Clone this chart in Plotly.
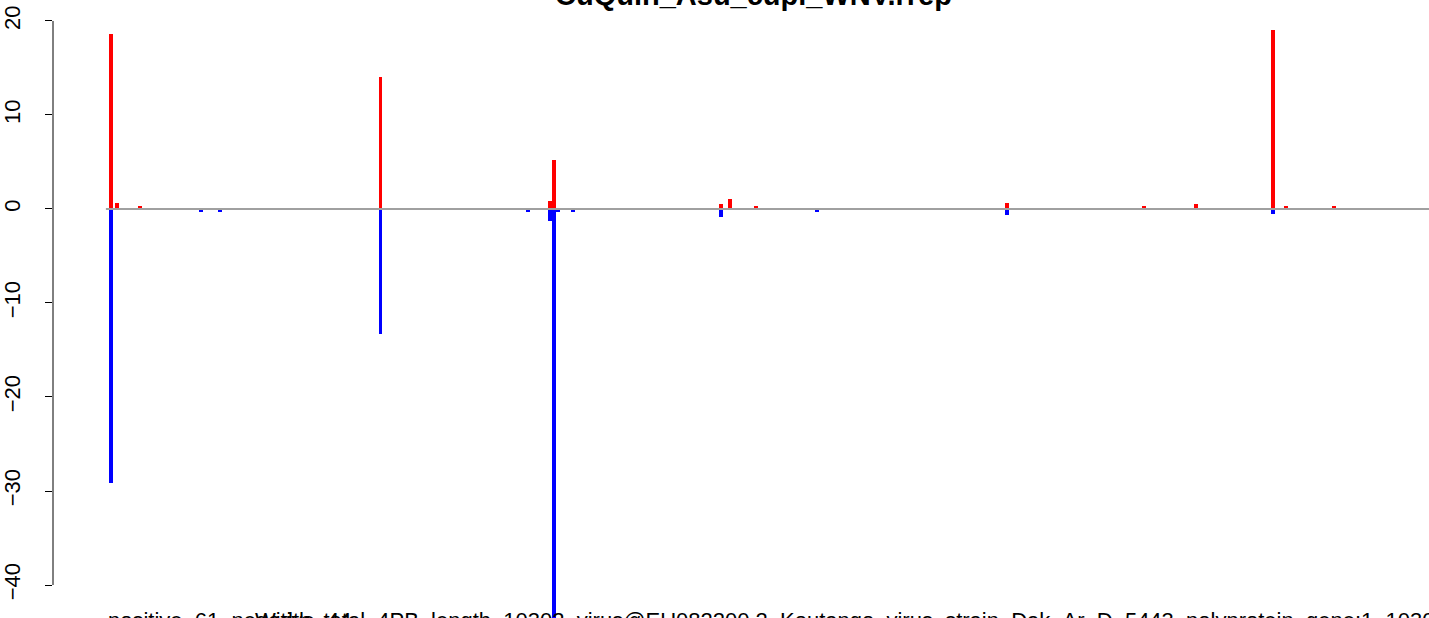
import plotly.graph_objects as go

# ---- data ----
genome_length = 10302
title_text = "CuQuin_Asu_cupi_WNV.rrep"
label_left = "positive_61_negative_44"
label_right = "Width_total_4PB_length_10302_virus@EU082200.2_Koutango_virus_strain_Dak_Ar_D_5443_polyprotein_gene:1_10302"

pos_x = [39, 86, 264, 2138, 3460, 3491, 4790, 4860, 5062, 7013, 8086, 8490, 9089, 9190, 9563]
pos_y = [18.6, 0.6, 0.32, 14.0, 0.88, 5.2, 0.5, 1.05, 0.3, 0.6, 0.3, 0.5, 19.0, 0.3, 0.3]

neg_x = [39, 739, 886, 2138, 3289, 3460, 3491, 3522, 3639, 4790, 5536, 7013, 9089]
neg_y = [-29.2, -0.35, -0.35, -13.3, -0.35, -1.3, -45.0, -0.35, -0.35, -0.85, -0.35, -0.6, -0.55]

y_ticks = [-40, -30, -20, -10, 0, 10, 20]

# ---- figure ----
W, H = 1429, 618
bar_w = 31  # genome units (~4 px)

fig = go.Figure()
fig.add_trace(go.Bar(x=pos_x, y=pos_y, width=bar_w, marker=dict(color="#FF0000", line=dict(width=0)),
                     showlegend=False, hoverinfo="x+y"))
fig.add_trace(go.Bar(x=neg_x, y=neg_y, width=bar_w, marker=dict(color="#0000FF", line=dict(width=0)),
                     showlegend=False, hoverinfo="x+y"))
fig.add_trace(go.Scatter(x=[0, genome_length], y=[0, 0], mode="lines",
                         line=dict(color="#A0A0A0", width=2), showlegend=False, hoverinfo="skip"))

font_family = "Liberation Sans, Arial, Helvetica, sans-serif"

fig.update_layout(
    width=W, height=H,
    margin=dict(l=51, r=0, t=0, b=0),
    paper_bgcolor="white", plot_bgcolor="white",
    barmode="overlay", bargap=0,
    font=dict(family=font_family, size=22, color="black"),
    xaxis=dict(visible=False, range=[-412, genome_length], fixedrange=True),
    yaxis=dict(range=[-43.51, 22.23], tickvals=y_ticks,
               showgrid=False, zeroline=False, showline=False,
               ticks="outside", ticklen=7, tickwidth=1, tickcolor="black",
               tickangle=-90, tickfont=dict(size=22, family=font_family, color="black"),
               ticklabelstandoff=16),
    shapes=[dict(type="line", xref="paper", yref="y", x0=0, x1=0, y0=min(y_ticks), y1=max(y_ticks),
                 line=dict(color="black", width=1))],
    annotations=[
        dict(text="<b>" + title_text + "</b>", xref="paper", yref="paper", x=(753 - 51) / (W - 51), y=1,
             xanchor="center", yanchor="bottom", yshift=-13, showarrow=False,
             font=dict(size=29, family=font_family, color="black")),
        dict(text=label_left, xref="x", yref="paper", x=0, y=0, xanchor="left", yanchor="middle",
             yshift=-2, showarrow=False, font=dict(size=22, family=font_family, color="black")),
        dict(text=label_right, xref="paper", yref="paper", x=(251 - 51) / (W - 51), y=0,
             xanchor="left", yanchor="middle", yshift=-2, showarrow=False,
             font=dict(size=22, family=font_family, color="black")),
    ],
)

fig.write_html("out.html", config={"displayModeBar": False},
               post_script="document.body.style.margin='0px';document.body.style.overflow='hidden';")
